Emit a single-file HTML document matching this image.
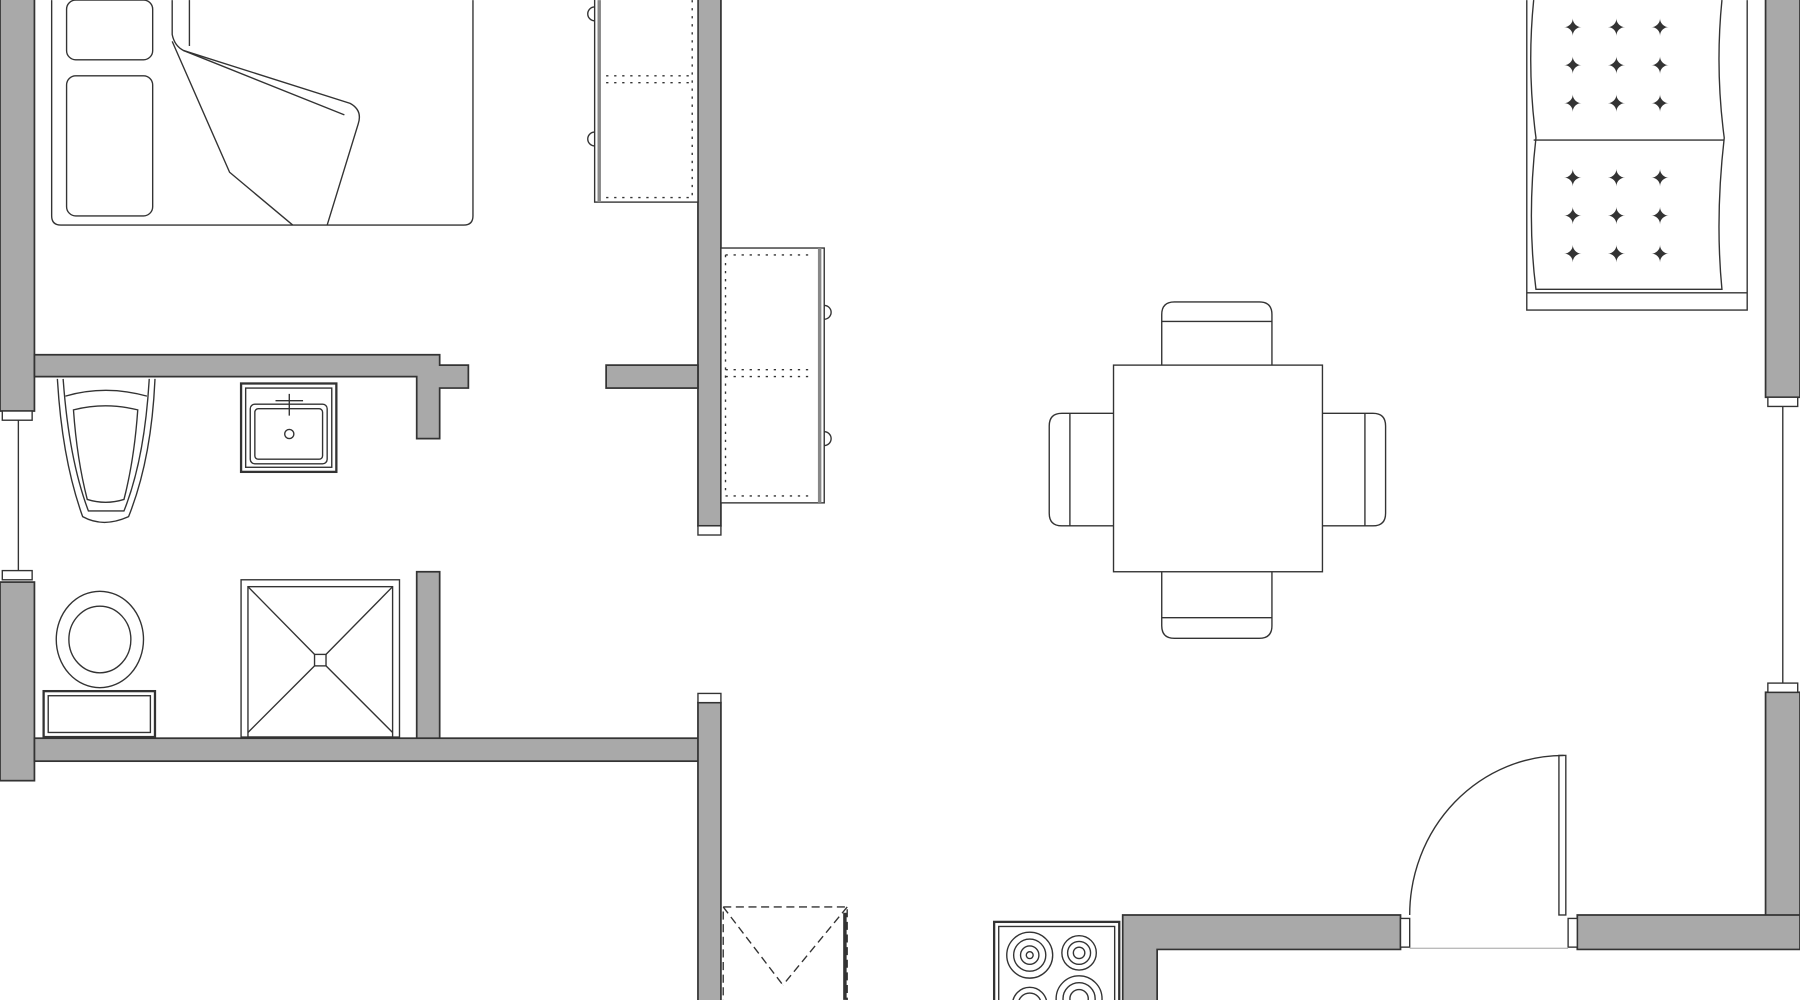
<!DOCTYPE html>
<html><head><meta charset="utf-8"><style>html,body{margin:0;padding:0;background:#fff}svg{display:block}</style></head>
<body>
<svg width="1800" height="1000" viewBox="0 0 1568 871" xmlns="http://www.w3.org/2000/svg">
<rect width="1568" height="871" fill="#fff"/>
<g fill="#a9a9a9" stroke="#333" stroke-width="1.5">
<!-- left wall -->
<rect x="0" y="-2" width="30" height="360"/>
<rect x="0" y="507" width="30" height="173"/>
<!-- bathroom top wall -->
<path d="M30 309 H383 V318 H408 V338 H383 V382 H363 V328 H30 Z"/>
<rect x="363" y="498" width="20" height="147"/>
<rect x="30" y="643" width="580" height="20"/>
<!-- central wall -->
<rect x="608" y="-2" width="20" height="460"/>
<rect x="608" y="612" width="20" height="262"/>
<rect x="528" y="318" width="80" height="20"/>
<!-- right wall -->
<rect x="1538" y="-2" width="30" height="348"/>
<rect x="1538" y="603" width="30" height="195"/>
<path d="M978 797 H1220 V827 H1008 V874 H978 Z"/>
<path d="M1374 797 H1568 V827 H1374 Z"/>
</g>
<g fill="#fff" stroke="#333" stroke-width="1.2">
<rect x="2" y="358" width="26" height="8"/><rect x="2" y="497" width="26" height="8"/>
<rect x="608" y="458" width="20" height="8"/><rect x="608" y="604" width="20" height="8"/>
<rect x="1540" y="346" width="26" height="8"/><rect x="1540" y="595" width="26" height="8"/>
<rect x="1220" y="800" width="8" height="25"/><rect x="1366" y="800" width="8" height="25"/>
</g>
<g stroke="#333" stroke-width="1.2" fill="none">
<line x1="16" y1="366" x2="16" y2="497"/>
<line x1="1553" y1="354" x2="1553" y2="595"/>
<line x1="1228" y1="826" x2="1366" y2="826" stroke="#bbb"/>
<!-- door -->
<rect x="1358" y="658" width="6" height="139" fill="#fff"/>
<path d="M1228 797 A134 139 0 0 1 1362 658"/>
<!-- bed -->
<path d="M45 0 V188 Q45 196 53 196 H404 Q412 196 412 188 V0"/>
<rect x="58" y="0" width="75" height="52" rx="8"/>
<rect x="58" y="66" width="75" height="122" rx="8"/>
<path d="M150 0 V30 Q152 40 160 44 L305 90 Q316 96 312 108 L285 196"/>
<path d="M150 36 L200 150 L255 196"/><path d="M160 44 L300 100"/><path d="M165 0 V40"/>
<!-- cabinets -->
<rect x="518" y="-2" width="90" height="178" fill="#fff"/>
<line x1="522" y1="0" x2="522" y2="176" stroke="#888" stroke-width="3"/>
<path d="M528 66 H604 M528 72 H604 M528 172 H604 M603 0 V172" stroke-dasharray="2 5"/>
<path d="M518 6 A6 6 0 0 0 518 18 M518 115 A6 6 0 0 0 518 127"/>
<rect x="628" y="216" width="90" height="222" fill="#fff"/>
<line x1="714" y1="216" x2="714" y2="438" stroke="#888" stroke-width="3"/>
<path d="M632 222 H708 M632 322 H708 M632 328 H708 M632 432 H708 M632 222 V432" stroke-dasharray="2 5"/>
<path d="M718 266 A6 6 0 0 1 718 278 M718 376 A6 6 0 0 1 718 388"/>
<!-- table -->
<rect x="970" y="318" width="182" height="180"/>
<path d="M1012 318 V274 Q1012 263 1023 263 H1097 Q1108 263 1108 274 V318"/>
<path d="M1012 280 H1108"/>
<path d="M1012 498 V545 Q1012 556 1023 556 H1097 Q1108 556 1108 545 V498"/>
<path d="M1012 538 H1108"/>
<path d="M970 360 H925 Q914 360 914 371 V447 Q914 458 925 458 H970"/><path d="M932 360 V458"/>
<path d="M1152 360 H1196 Q1207 360 1207 371 V447 Q1207 458 1196 458 H1152"/><path d="M1189 360 V458"/>
<!-- sofa -->
<path d="M1330 0 V270 H1522 V0"/>
<path d="M1336 0 Q1330 60 1338 120 Q1330 190 1338 252 L1500 252 Q1494 190 1502 120 Q1494 60 1500 0"/>
<path d="M1336 122 H1502"/>
<path d="M1330 255 H1522"/>
<!-- toilet -->
<path d="M50 330 Q54 400 72 450 Q90 460 112 450 Q132 400 135 330"/>
<path d="M55 330 Q60 400 77 445 H108 Q126 400 130 330"/>
<path d="M57 345 Q92 335 128 345"/>
<path d="M64 357 Q92 350 120 357 Q117 400 108 435 Q92 440 76 435 Q67 400 64 357 Z"/>
<!-- sink -->
<rect x="210" y="334" width="83" height="77" stroke-width="2"/>
<rect x="214" y="338" width="75" height="69"/>
<rect x="218" y="352" width="67" height="52" rx="4"/>
<rect x="222" y="356" width="59" height="44" rx="3"/>
<path d="M252 343 V362 M240 349 H264"/><circle cx="252" cy="378" r="4"/>
<!-- round toilet -->
<ellipse cx="87" cy="557" rx="38" ry="42"/>
<ellipse cx="87" cy="557" rx="27" ry="29"/>
<rect x="38" y="602" width="97" height="40" stroke-width="2"/>
<rect x="42" y="606" width="89" height="32"/>
<!-- shower -->
<rect x="210" y="505" width="138" height="137"/>
<rect x="216" y="511" width="126" height="131"/>
<path d="M216 511 L274 570 M342 511 L284 570 M216 638 L274 580 M342 638 L284 580"/>
<rect x="274" y="570" width="10" height="10"/>
<!-- dashed box -->
<rect x="630" y="790" width="108" height="90" stroke-dasharray="7 4"/>
<path d="M630 790 L682 858 M738 790 L682 858" stroke-dasharray="7 4"/>
<line x1="736" y1="795" x2="736" y2="871" stroke-width="3"/>
<!-- stove -->
<rect x="866" y="803" width="109" height="72" stroke-width="2"/>
<rect x="870" y="807" width="101" height="68"/>
<g><circle cx="897" cy="832" r="20"/><circle cx="897" cy="832" r="14"/><circle cx="897" cy="832" r="8"/><circle cx="897" cy="832" r="3"/>
<circle cx="940" cy="830" r="15"/><circle cx="940" cy="830" r="10"/><circle cx="940" cy="830" r="5"/>
<circle cx="897" cy="875" r="15"/><circle cx="897" cy="875" r="10"/>
<circle cx="940" cy="870" r="20"/><circle cx="940" cy="870" r="14"/><circle cx="940" cy="870" r="8"/></g>
</g>
<g fill="#333" font-family="Liberation Sans, sans-serif" font-size="20" text-anchor="middle">
<text x="1370" y="31">✦</text><text x="1408" y="31">✦</text><text x="1446" y="31">✦</text>
<text x="1370" y="64">✦</text><text x="1408" y="64">✦</text><text x="1446" y="64">✦</text>
<text x="1370" y="97">✦</text><text x="1408" y="97">✦</text><text x="1446" y="97">✦</text>
<text x="1370" y="162">✦</text><text x="1408" y="162">✦</text><text x="1446" y="162">✦</text>
<text x="1370" y="195">✦</text><text x="1408" y="195">✦</text><text x="1446" y="195">✦</text>
<text x="1370" y="228">✦</text><text x="1408" y="228">✦</text><text x="1446" y="228">✦</text>
</g>
</svg>
</body></html>
